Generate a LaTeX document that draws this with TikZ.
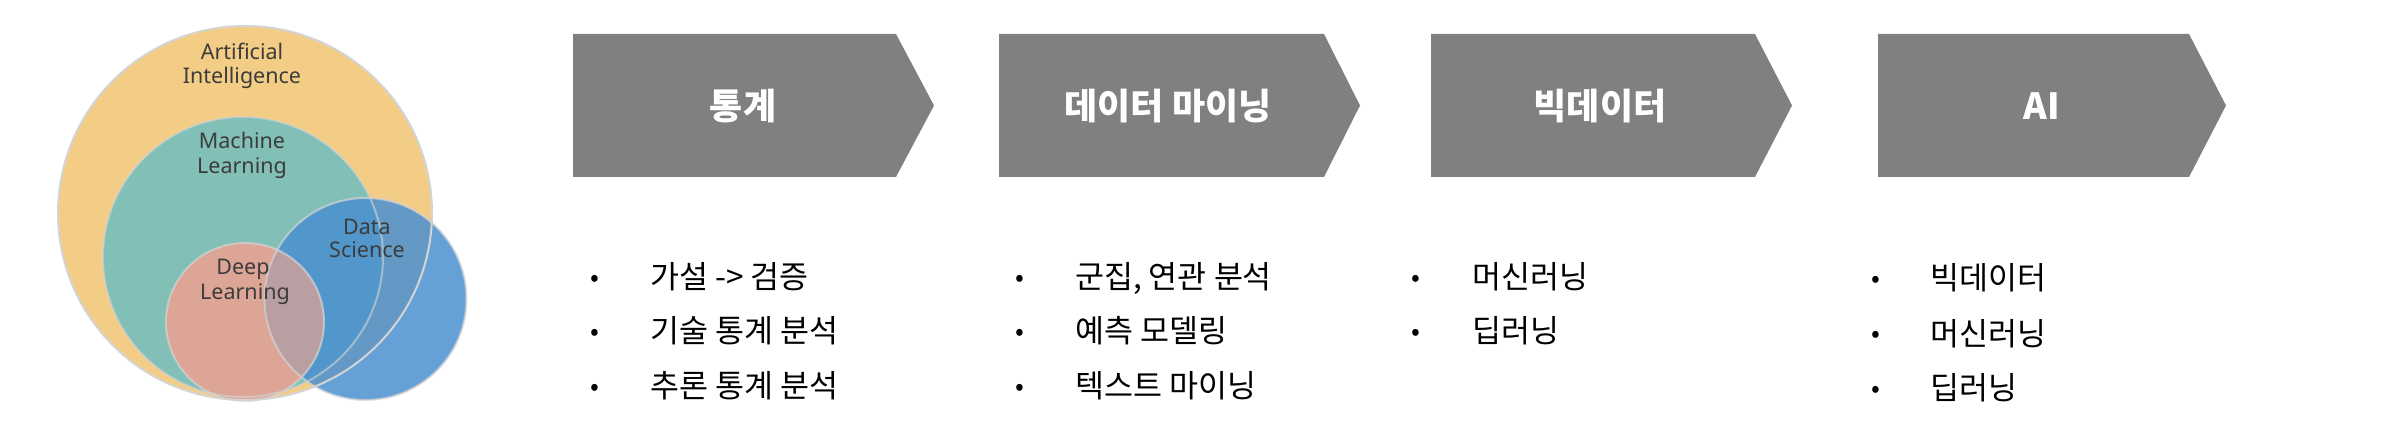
\documentclass[tikz,border=0pt]{standalone}
\usepackage{fontspec}
\setmainfont{Noto Sans}
\newfontfamily\kr{Noto Sans CJK KR}
\definecolor{aiyel}{HTML}{F3CD85}
\definecolor{mlteal}{HTML}{82BFB7}
\definecolor{dlpink}{HTML}{DCA595}
\definecolor{dsblue}{HTML}{4A90D0}
\definecolor{ringc}{HTML}{D4D4D4}
\definecolor{vtext}{HTML}{3C3C3C}
\definecolor{chev}{HTML}{808080}
\tikzset{
  ring/.style={draw=ringc, line width=2pt},
  vlabel/.style={anchor=base, inner sep=0pt, text=vtext, font=\fontsize{21.5}{25}\selectfont},
  chevron/.style={fill=chev, draw=none},
  title/.style={anchor=base, inner sep=0pt, text=white, font=\kr\bfseries\fontsize{36}{40}\selectfont},
  bul/.style={anchor=base west, inner sep=0pt, font=\kr\fontsize{26}{30}\selectfont},
  item/.style={anchor=base west, inner sep=0pt, font=\kr\fontsize{31.5}{34}\selectfont},
}
\begin{document}
\begin{tikzpicture}[x=1pt,y=-1pt]
\useasboundingbox (0,0) rectangle (2402,438);
% Venn diagram
\fill[aiyel] (245,213) circle (187);
\fill[mlteal] (243,257) circle (140);
\fill[dlpink] (245,322) circle (79);
\fill[dsblue, opacity=0.85] (365.5,299) circle (101);
\begin{scope}
  \clip (365.5,299) circle (101);
  \fill[dlpink, opacity=0.72] (245,322) circle (79);
\end{scope}
\draw[ring] (245,213) circle (187);
\draw[ring, opacity=0.6] (243,257) circle (140);
\draw[ring, opacity=0.7] (365.5,299) circle (101);
\draw[ring, opacity=0.7] (245,322) circle (79);
\node[vlabel] (ai1) at (242,60) {Artificial};
\node[vlabel] (ai2) at (242,84) {Intelligence};
\node[vlabel] (ml1) at (242,149) {Machine};
\node[vlabel] (ml2) at (242,174) {Learning};
\node[vlabel] (ds1) at (367,235) {Data};
\node[vlabel] (ds2) at (367,258) {Science};
\node[vlabel] (dl1) at (243,275) {Deep};
\node[vlabel] (dl2) at (245,300) {Learning};
% chevrons
\fill[chevron] (573,34) -- (896,34) -- (934,105.5) -- (896,177) -- (573,177) -- cycle;
\fill[chevron] (999,34) -- (1324,34) -- (1360,105.5) -- (1324,177) -- (999,177) -- cycle;
\fill[chevron] (1431,34) -- (1755,34) -- (1792,105.5) -- (1755,177) -- (1431,177) -- cycle;
\fill[chevron] (1878,34) -- (2189,34) -- (2226,105.5) -- (2189,177) -- (1878,177) -- cycle;
\node[title] (t1) at (743,120) {통계};
\node[title] (t2) at (1168,120) {데이터 마이닝};
\node[title] (t3) at (1600,120) {빅데이터};
\node[title] (t4) at (2042,120) {AI};
% column 1
\node[bul] (b11) at (590,287) {•};
\node[item] (i11) at (650,289) {가설 -> 검증};
\node[bul] (b12) at (590,341) {•};
\node[item] (i12) at (650,343) {기술 통계 분석};
\node[bul] (b13) at (590,395) {•};
\node[item] (i13) at (650,397) {추론 통계 분석};
% column 2
\node[bul] (b21) at (1015,287) {•};
\node[item] (i21) at (1075,289) {군집, 연관 분석};
\node[bul] (b22) at (1015,341) {•};
\node[item] (i22) at (1075,343) {예측 모델링};
\node[bul] (b23) at (1015,395) {•};
\node[item] (i23) at (1075,397) {텍스트 마이닝};
% column 3
\node[bul] (b31) at (1411,287) {•};
\node[item] (i31) at (1472,289) {머신러닝};
\node[bul] (b32) at (1411,341) {•};
\node[item] (i32) at (1472,343) {딥러닝};
% column 4
\node[bul] (b41) at (1871,288) {•};
\node[item] (i41) at (1930,290) {빅데이터};
\node[bul] (b42) at (1871,343) {•};
\node[item] (i42) at (1930,345) {머신러닝};
\node[bul] (b43) at (1871,397) {•};
\node[item] (i43) at (1930,399) {딥러닝};
\end{tikzpicture}
\end{document}
